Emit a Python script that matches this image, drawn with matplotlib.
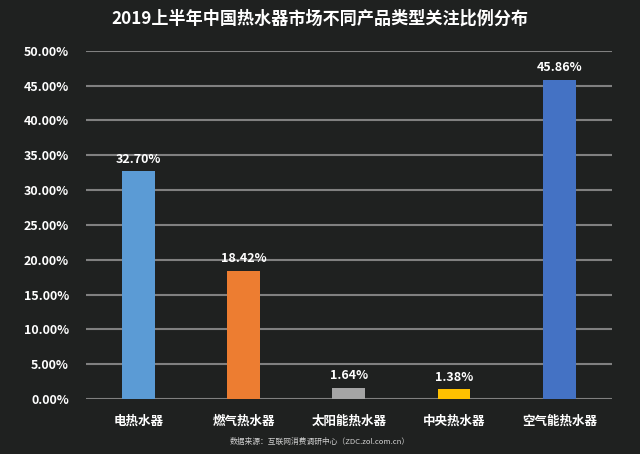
import matplotlib.pyplot as plt
import numpy as np
from matplotlib.ticker import FuncFormatter

plt.rcParams["font.family"] = ["Noto Sans CJK SC", "DejaVu Sans"]

TITLE = "2019上半年中国热水器市场不同产品类型关注比例分布"
SOURCE = "数据来源：互联网消费调研中心（ZDC.zol.com.cn）"
categories = ["电热水器", "燃气热水器", "太阳能热水器", "中央热水器", "空气能热水器"]
values = [32.70, 18.42, 1.64, 1.38, 45.86]
colors = ["#5b9bd5", "#ed7d31", "#a5a5a5", "#ffc000", "#4472c4"]

BG = "#1f2120"


def main() -> None:
    fig = plt.figure(figsize=(6.4, 4.54), dpi=100, facecolor=BG)
    ax = fig.add_axes([0.134, 0.121, 0.822, 0.767], facecolor=BG)

    x = np.arange(len(categories))
    bars = ax.bar(x, values, width=0.31, color=colors, zorder=3)
    for bar, v in zip(bars, values):
        ax.text(bar.get_x() + bar.get_width() / 2, v + 0.8, f"{v:.2f}%",
                ha="center", va="bottom", color="white", fontsize=9,
                fontweight="bold")

    ax.set_xlim(-0.5, len(categories) - 0.5)
    ax.set_ylim(0, 50)
    ax.set_yticks(np.arange(0, 50.1, 5))
    ax.yaxis.set_major_formatter(FuncFormatter(lambda v, _: f"{v:.2f}%"))
    ax.set_xticks(x)
    ax.set_xticklabels(categories)
    ax.grid(axis="y", color="#808080", linewidth=1.5, zorder=0)
    ax.tick_params(axis="y", length=0, pad=12, labelcolor="white", labelsize=9)
    ax.tick_params(axis="x", length=0, pad=11, labelcolor="white", labelsize=9)
    for lab in ax.get_xticklabels() + ax.get_yticklabels():
        lab.set_fontweight("bold")
    for spine in ax.spines.values():
        spine.set_visible(False)

    fig.text(0.5, 0.96, TITLE, ha="center", va="center", color="white",
             fontsize=12.3, fontweight="bold")
    fig.text(0.5, 0.026, SOURCE, ha="center", va="center", color="#d0d0d0",
             fontsize=5.6)

    fig.savefig("out.png", dpi=100, facecolor=BG)
    plt.close(fig)


if __name__ == "__main__":
    main()
